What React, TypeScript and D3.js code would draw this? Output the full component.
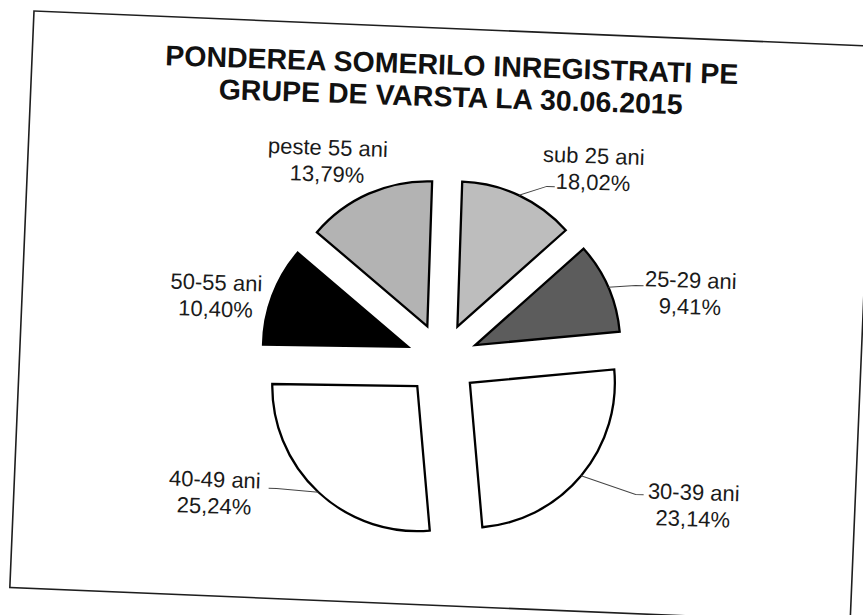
import React from "react";
import * as d3 from "d3";

// ---------- data ----------
const categories = ["sub 25 ani", "25-29 ani", "30-39 ani", "40-49 ani", "50-55 ani", "peste 55 ani"];
// percentages printed in the data labels
const printedPercent = [18.02, 9.41, 23.14, 25.24, 10.4, 13.79];
// slice sizes as actually drawn in the picture (the printed labels do not match the drawn angles)
const sliceShare = [12.9, 10.1, 25.1, 26.6, 11.0, 14.3];
const titleLines = ["PONDEREA SOMERILO INREGISTRATI PE", "GRUPE DE VARSTA LA 30.06.2015"];

// ---------- layout / style ----------
const W = 863;
const H = 615;
const CX = 442;
const CY = 359.5;
const R = 145;
const EXPLODE = 36.3;
const CONTENT_ROT = 1.9;
const FRAME_ROT = 2.4;
const FONT = "Arial, 'Liberation Sans', Helvetica, sans-serif";
const fills = ["#bdbdbd", "#5c5c5c", "#ffffff", "#ffffff", "#000000", "#b3b3b3"];
// label anchor (centre x, first baseline) relative to the pie centre
const labelAnchor: [number, number][] = [
  [145, -201],
  [246, -80],
  [256, 132],
  [-223, 135],
  [-228, -62],
  [-121, -200.5],
];
// leader end relative to the label anchor (null = no leader line)
const leaderEnd: ([number, number] | null)[] = [
  [-38, 24.5],
  [-47, -0.5],
  [-50, -3.5],
  [54, -0.5],
  null,
  null,
];

const fmt = (v: number) => d3.format(".2f")(v).replace(".", ",") + "%";

export default function App() {
  const arcs = d3
    .pie<number>()
    .sort(null)
    .value((d) => d)(sliceShare);
  const arcGen = d3
    .arc<d3.PieArcDatum<number>>()
    .innerRadius(0)
    .outerRadius(R);

  return (
    <svg
      width={W}
      height={H}
      viewBox={`0 0 ${W} ${H}`}
      style={{ position: "absolute", left: 0, top: 0, background: "#fff" }}
    >
      <rect x={0} y={0} width={W} height={H} fill="#fff" />
      <g transform={`rotate(${FRAME_ROT} 34 11)`}>
        <rect x={34} y={11} width={841} height={577} fill="none" stroke="#1e1e1e" strokeWidth={1.6} />
      </g>
      <g transform={`rotate(${CONTENT_ROT} ${CX} ${CY})`} fontFamily={FONT}>
        {titleLines.map((t, i) => (
          <text
            key={t}
            x={CX}
            y={74.5 + i * 32}
            textAnchor="middle"
            fontSize={28.5}
            fontWeight="bold"
            fill="#111"
          >
            {t}
          </text>
        ))}
        <g transform={`translate(${CX},${CY})`}>
          {arcs.map((a, i) => {
            const mid = (a.startAngle + a.endAngle) / 2;
            const ox = EXPLODE * Math.sin(mid);
            const oy = -EXPLODE * Math.cos(mid);
            return (
              <path
                key={categories[i]}
                d={arcGen(a) || ""}
                transform={`translate(${ox},${oy})`}
                fill={fills[i]}
                stroke="#000"
                strokeWidth={2.3}
                strokeLinejoin="miter"
              />
            );
          })}
          {arcs.map((a, i) => {
            const le = leaderEnd[i];
            if (!le) return null;
            const mid = (a.startAngle + a.endAngle) / 2;
            const sx = (EXPLODE + R) * Math.sin(mid);
            const sy = -(EXPLODE + R) * Math.cos(mid);
            const ex = labelAnchor[i][0] + le[0];
            const ey = labelAnchor[i][1] + le[1];
            const elbowX = ex + (le[0] < 0 ? -8 : 8);
            return (
              <path
                key={"l" + i}
                d={`M${sx},${sy}L${elbowX},${ey}L${ex},${ey}`}
                fill="none"
                stroke="#444"
                strokeWidth={1}
              />
            );
          })}
          {categories.map((c, i) => (
            <text
              key={"t" + c}
              x={labelAnchor[i][0]}
              y={labelAnchor[i][1]}
              textAnchor="middle"
              fontSize={22}
              fill="#1a1a1a"
            >
              <tspan x={labelAnchor[i][0]}>{c}</tspan>
              <tspan x={labelAnchor[i][0]} dy={26.5}>
                {fmt(printedPercent[i])}
              </tspan>
            </text>
          ))}
        </g>
      </g>
    </svg>
  );
}
